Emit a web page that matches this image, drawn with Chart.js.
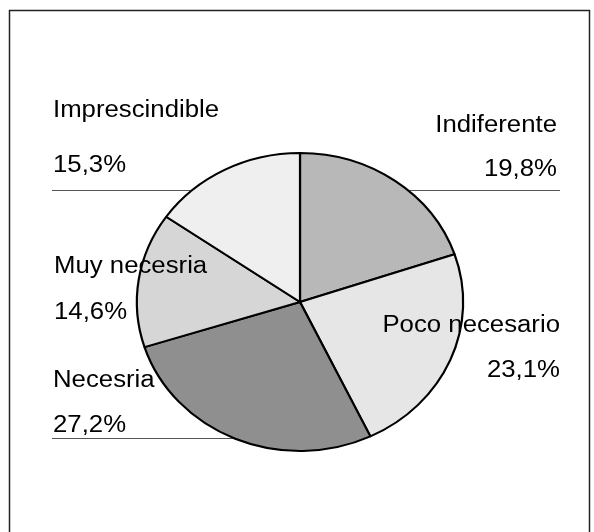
<!DOCTYPE html>
<html>
<head>
<meta charset="utf-8">
<script src="https://cdn.jsdelivr.net/npm/chart.js@4.4.1/dist/chart.umd.min.js"></script>
<style>
  html, body { margin: 0; padding: 0; background: #fff; }
  #wrap { width: 594px; height: 532px; }
</style>
</head>
<body>
<div id="wrap"><canvas id="pieChart" width="594" height="532"></canvas></div>
<script>
const categories = ["Indiferente", "Poco necesario", "Necesria", "Muy necesria", "Imprescindible"];
const percents = [19.8, 23.1, 27.2, 14.6, 15.3];
const sliceColors = ["#b8b8b8", "#e6e6e6", "#8f8f8f", "#d6d6d6", "#efefef"];

// where each label pair sits: anchor x, alignment, baseline of name and value
const labelSpots = [
  { x: 557, align: "right", y1: 132, y2: 176 },
  { x: 560, align: "right", y1: 332, y2: 377 },
  { x: 53, align: "left", y1: 387, y2: 432 },
  { x: 54, align: "left", y1: 273, y2: 319 },
  { x: 53, align: "left", y1: 117, y2: 172 },
];

const PIE_STRETCH = 1.095;
const TEXT_STRETCH = 1.12;

const fmt = (v) => v.toFixed(1).replace(".", ",") + "%";

const backdrop = {
  id: "backdrop",
  beforeDraw(chart) {
    const ctx = chart.ctx;
    ctx.save();
    ctx.fillStyle = "#fff";
    ctx.fillRect(0, 0, chart.width, chart.height);
    ctx.strokeStyle = "#222";
    ctx.lineWidth = 1.5;
    ctx.beginPath();
    ctx.moveTo(9.5, chart.height);
    ctx.lineTo(9.5, 10.5);
    ctx.lineTo(589.5, 10.5);
    ctx.lineTo(589.5, chart.height);
    ctx.stroke();

    // leader lines under the pie
    ctx.strokeStyle = "#555";
    ctx.lineWidth = 1;
    ctx.beginPath();
    ctx.moveTo(52, 190.5);
    ctx.lineTo(560, 190.5);
    ctx.moveTo(52, 438.5);
    ctx.lineTo(300, 438.5);
    ctx.stroke();
    ctx.restore();
  },
};

const ellipse = {
  id: "ellipse",
  beforeDatasetsDraw(chart) {
    const arc = chart.getDatasetMeta(0).data[0];
    const ctx = chart.ctx;
    ctx.save();
    ctx.translate(arc.x, arc.y);
    ctx.scale(PIE_STRETCH, 1);
    ctx.translate(-arc.x, -arc.y);
  },
  afterDatasetsDraw(chart) {
    const ctx = chart.ctx;
    ctx.restore();

    ctx.save();
    ctx.fillStyle = "#000";
    ctx.font = "23px 'Liberation Sans', Arial, sans-serif";
    ctx.textBaseline = "alphabetic";
    categories.forEach((name, i) => {
      const s = labelSpots[i];
      ctx.textAlign = s.align;
      [[name, s.y1], [fmt(percents[i]), s.y2]].forEach(([t, y]) => {
        ctx.save();
        ctx.translate(s.x, y);
        ctx.scale(TEXT_STRETCH, 1);
        ctx.fillText(t, 0, 0);
        ctx.restore();
      });
    });
    ctx.restore();
  },
};

const pieCtx = document.getElementById("pieChart").getContext("2d");

const answersPie = new Chart(pieCtx, {
  type: "pie",
  data: {
    labels: categories,
    datasets: [{
      data: percents,
      backgroundColor: sliceColors,
      borderColor: "#000",
      borderWidth: 2,
    }],
  },
  options: {
    responsive: false,
    animation: false,
    events: [],
    layout: { padding: { top: 152, bottom: 80, left: 100, right: 94 } },
    plugins: {
      legend: { display: false },
      tooltip: { enabled: false },
    },
  },
  plugins: [backdrop, ellipse],
});
</script>
</body>
</html>
